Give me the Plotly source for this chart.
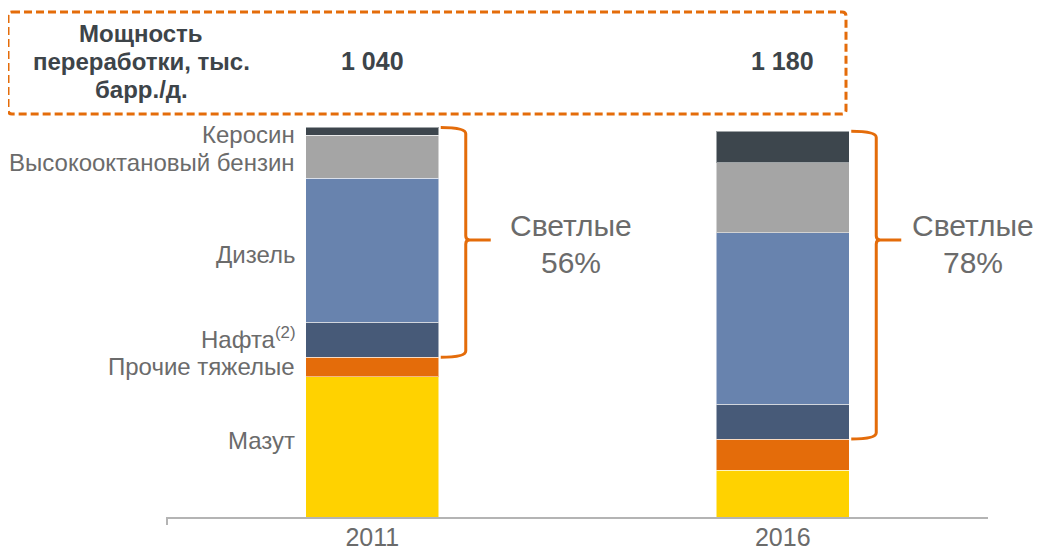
import plotly.graph_objects as go

# ---- data ----
years = ["2011", "2016"]
mazut = [36, 12]
other_heavy = [5, 8]
naphtha = [9, 9]
diesel = [37, 44]
high_octane = [11, 18]
kerosene = [2, 8]
capacity = ["1 040", "1 180"]
light_share = ["56%", "78%"]

series_names = ["Мазут", "Прочие тяжелые", "Нафта<sup>(2)</sup>", "Дизель",
                "Высокооктановый бензин", "Керосин"]
series_vals = [mazut, other_heavy, naphtha, diesel, high_octane, kerosene]
colors = ["#FFD200", "#E46C0A", "#475A78", "#6883AE", "#A5A5A5", "#3D464D"]

# ---- geometry (page pixels; the page body adds an 8px offset) ----
OFF = 8
W, Hgt = 1043, 551
AX_L, AX_R, AX_BOT, AX_TOP = 167, 988, 517, 108   # plot area in page pixels
L = AX_L - OFF
R = W - (AX_R - OFF)
T = AX_TOP - OFF
B = Hgt - (AX_BOT - OFF)
PW = AX_R - AX_L
PH = AX_BOT - AX_TOP
YMAX = 105
BARGAP = 0.676
FONT = "Liberation Sans, Arial, sans-serif"
GREY = "#6B6B6B"
DARK = "#3D4449"
ORANGE = "#E46C0A"
UNIT = PH / YMAX  # px per data unit


def px_x(p):
    return (p - AX_L) / PW


def px_y(p):
    return (AX_BOT - p) / PH


def data_y(p):
    return (AX_BOT - p) / UNIT


fig = go.Figure()
for name, vals, col in zip(series_names, series_vals, colors):
    fig.add_trace(go.Bar(x=years, y=vals, name=name, marker_color=col,
                         marker_line=dict(color="rgba(255,255,255,0.5)", width=1)))

fig.update_layout(
    barmode="stack", bargap=BARGAP, showlegend=False,
    width=W, height=Hgt, margin=dict(l=L, r=R, t=T, b=B, autoexpand=False),
    plot_bgcolor="white", paper_bgcolor="white",
    font=dict(family=FONT, color=GREY),
    xaxis=dict(type="category", range=[-0.5, 1.5], showline=True, linecolor="#B4B4B4",
               linewidth=2, ticks="", showgrid=False, zeroline=False, automargin=False,
               tickfont=dict(size=25, color=GREY), ticklabelstandoff=-3),
    yaxis=dict(visible=False, range=[0, YMAX], automargin=False),
)

shapes = []
annotations = []

# left tick at axis start
shapes.append(dict(type="line", xref="paper", yref="paper", x0=0, x1=0, y0=0, y1=-8 / PH,
                   line=dict(color="#B4B4B4", width=2)))

# dashed box with slightly rounded corners
bx0, bx1, by0, by1, rr = 8, 846, 12, 114, 4
path = (f"M {px_x(bx0 + rr)},{px_y(by0)} L {px_x(bx1 - rr)},{px_y(by0)} "
        f"Q {px_x(bx1)},{px_y(by0)} {px_x(bx1)},{px_y(by0 + rr)} "
        f"L {px_x(bx1)},{px_y(by1 - rr)} Q {px_x(bx1)},{px_y(by1)} {px_x(bx1 - rr)},{px_y(by1)} "
        f"L {px_x(bx0 + rr)},{px_y(by1)} Q {px_x(bx0)},{px_y(by1)} {px_x(bx0)},{px_y(by1 - rr)} "
        f"L {px_x(bx0)},{px_y(by0 + rr)} Q {px_x(bx0)},{px_y(by0)} {px_x(bx0 + rr)},{px_y(by0)} Z")
shapes.append(dict(type="path", xref="paper", yref="paper", path=path,
                   line=dict(color=ORANGE, width=3, dash="8px,4px")))

# header text
for txt, yy in zip(["Мощность", "переработки, тыс.", "барр./д."], [33, 61.5, 89]):
    annotations.append(dict(xref="paper", yref="paper", x=px_x(141), y=px_y(yy), text=f"<b>{txt}</b>",
                            showarrow=False, xanchor="center", yanchor="middle",
                            font=dict(size=24, color=DARK)))

# capacity numbers, centred over the bars
half_w = (1 - BARGAP) / 2 / 2  # half bar width in paper units
for i, cap in enumerate(capacity):
    cx = (i + 0.5) / 2
    annotations.append(dict(xref="paper", yref="paper", x=cx, y=px_y(61), text=f"<b>{cap}</b>",
                            showarrow=False, xanchor="center", yanchor="middle",
                            font=dict(size=25, color=DARK)))

# left labels (at 2011 segment midpoints, nudged)
shifts = [6, 1, 2, -4, -6, -3]
base = 0
for name, vals, sh in zip(series_names, series_vals, shifts):
    mid = base + vals[0] / 2
    base += vals[0]
    annotations.append(dict(xref="paper", yref="y", x=px_x(297), y=mid, yshift=sh, text=name,
                            showarrow=False, xanchor="right", yanchor="middle",
                            font=dict(size=24, color=GREY)))

# braces and light-share labels
tip_y = data_y(240)
line1_y = data_y(225)
line2_y = data_y(262)
text_dx = [80, 72]
for i in range(2):
    cx = (i + 0.5) / 2
    x0 = cx + half_w + 2 / PW
    x1 = x0 + 25 / PW
    x2 = x1 + 25 / PW
    yt = sum(v[i] for v in series_vals)
    yb = mazut[i] + other_heavy[i]
    r = 1.6
    rx = 4 / PW
    p = (f"M {x0},{yt} Q {x1},{yt} {x1},{yt - r} "
         f"L {x1},{tip_y + 1.0} Q {x1},{tip_y} {x1 + rx},{tip_y} L {x2},{tip_y} "
         f"M {x1 + rx},{tip_y} Q {x1},{tip_y} {x1},{tip_y - 1.0} "
         f"L {x1},{yb + r} Q {x1},{yb} {x0},{yb}")
    shapes.append(dict(type="path", xref="paper", yref="y", path=p,
                       line=dict(color=ORANGE, width=3)))
    tx = x2 + text_dx[i] / PW
    annotations.append(dict(xref="paper", yref="y", x=tx, y=line1_y, text="Светлые",
                            showarrow=False, xanchor="center", yanchor="middle",
                            font=dict(size=30, color=GREY)))
    annotations.append(dict(xref="paper", yref="y", x=tx, y=line2_y, text=light_share[i],
                            showarrow=False, xanchor="center", yanchor="middle",
                            font=dict(size=30, color=GREY)))

fig.update_layout(shapes=shapes, annotations=annotations)
fig.write_html("out.html")
